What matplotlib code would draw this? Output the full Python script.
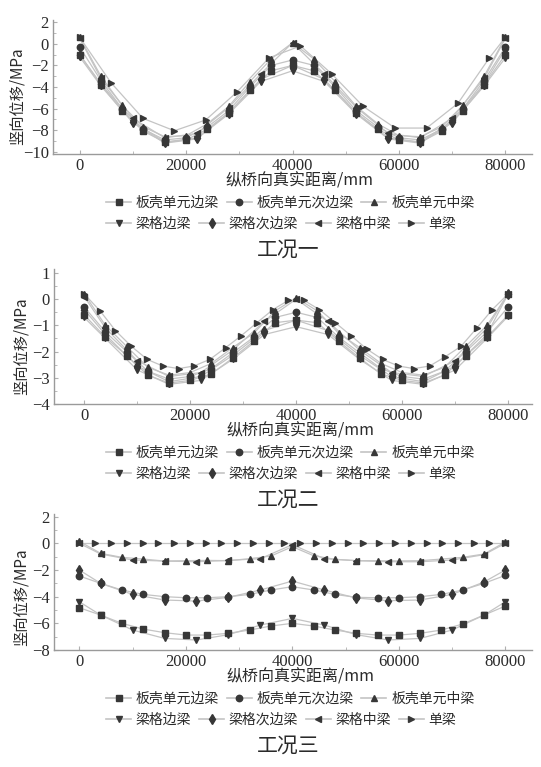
import matplotlib.pyplot as plt
from matplotlib.lines import Line2D
from matplotlib.ticker import MultipleLocator

# series names and x positions (mm)
names = ['板壳单元边梁', '板壳单元次边梁', '板壳单元中梁',
         '梁格边梁', '梁格次边梁', '梁格中梁', '单梁']
titles = ['工况一', '工况二', '工况三']

x_shell = [0, 4000, 8000, 12000, 16000, 20000, 24000, 28000, 32000, 36000, 40000,
           44000, 48000, 52000, 56000, 60000, 64000, 68000, 72000, 76000, 80000]
x_grid = [0, 4000, 10000, 16000, 22000, 28000, 34000, 40000,
          46000, 52000, 58000, 64000, 70000, 76000, 80000]
x_single = [0, 3000, 5900, 8900, 11900, 14800, 17800, 20700, 23700, 26700, 29600,
            32600, 35600, 38500, 41500, 44400, 47400, 50400, 53300, 56300, 59300,
            62200, 65200, 68100, 71100, 74100, 77000, 80000]
x_single_1 = [0, 5900, 11900, 17800, 23700, 29600, 35600, 41500, 47400, 53300,
              59300, 65200, 71100, 77000, 80000]

# 工况一
c1_edge = [-1.0, -3.8, -6.2, -8.1, -9.1, -8.9, -7.9, -6.4, -4.3, -2.5, -2.0,
           -2.5, -4.3, -6.4, -7.9, -8.9, -9.1, -8.1, -6.2, -3.8, -1.0]
c1_sub = [-0.3, -3.4, -6.0, -7.9, -8.9, -8.7, -7.7, -6.2, -4.0, -2.0, -1.5,
          -2.0, -4.0, -6.2, -7.7, -8.7, -8.9, -7.9, -6.0, -3.4, -0.3]
c1_mid = [0.6, -3.0, -5.7, -7.7, -8.6, -8.5, -7.4, -5.8, -3.5, -1.4, 0.1,
          -1.4, -3.5, -5.8, -7.4, -8.5, -8.6, -7.7, -5.7, -3.0, 0.6]
c1_g_edge = [-1.2, -3.9, -7.3, -9.2, -8.8, -6.5, -3.5, -2.5,
             -3.5, -6.5, -8.8, -9.2, -7.3, -3.9, -1.3]
c1_g_sub = [-1.0, -3.7, -7.2, -9.1, -8.7, -6.4, -3.3, -2.0,
            -3.3, -6.4, -8.7, -9.1, -7.2, -3.7, -0.5]
c1_g_mid = [0.5, -3.2, -6.9, -8.7, -8.3, -5.9, -2.8, 0.1,
            -2.8, -5.9, -8.3, -8.7, -6.9, -3.2, 0.5]
c1_single = [0.6, -3.6, -6.9, -8.05, -7.05, -4.45, -1.3, -0.2, -2.8, -5.8,
             -7.8, -7.8, -5.5, -1.3, 0.6]

# 工况二
c2_edge = [-0.6, -1.45, -2.15, -2.9, -3.2, -3.1, -2.85, -2.25, -1.6, -0.9, -0.8,
           -0.9, -1.6, -2.25, -2.85, -3.1, -3.2, -2.9, -2.15, -1.45, -0.6]
c2_sub = [-0.3, -1.25, -2.0, -2.75, -3.05, -2.95, -2.65, -2.05, -1.45, -0.7, -0.5,
          -0.7, -1.45, -2.05, -2.65, -2.95, -3.05, -2.75, -2.0, -1.25, -0.3]
c2_mid = [0.2, -1.0, -1.8, -2.6, -2.9, -2.8, -2.45, -1.85, -1.3, -0.45, 0.05,
          -0.45, -1.3, -1.85, -2.45, -2.8, -2.9, -2.6, -1.8, -1.0, 0.2]
c2_g_edge = [-0.7, -1.5, -2.7, -3.25, -3.1, -2.3, -1.35, -1.05,
             -1.35, -2.3, -3.1, -3.25, -2.7, -1.5, -0.65]
c2_g_sub = [-0.4, -1.35, -2.55, -3.15, -2.95, -2.15, -1.2, -0.8,
            -1.2, -2.15, -2.95, -3.15, -2.55, -1.35, 0.2]
c2_g_mid = [0.1, -1.1, -2.35, -2.95, -2.8, -1.95, -0.85, 0.0,
            -0.85, -1.95, -2.8, -2.95, -2.35, -1.1, 0.2]
c2_single = [0.2, -0.45, -1.2, -1.8, -2.3, -2.55, -2.65, -2.55, -2.3, -1.85,
             -1.4, -0.9, -0.4, -0.05, -0.05, -0.4, -0.9, -1.4, -1.9, -2.3,
             -2.55, -2.65, -2.55, -2.2, -1.8, -1.1, -0.4, 0.2]

# 工况三
c3_edge = [-4.83, -5.38, -6.0, -6.43, -6.7, -6.88, -6.88, -6.75, -6.5, -6.2, -6.0,
           -6.2, -6.5, -6.75, -6.88, -6.88, -6.75, -6.5, -6.05, -5.38, -4.7]
c3_sub = [-2.45, -3.0, -3.5, -3.83, -4.0, -4.08, -4.08, -4.0, -3.83, -3.5, -3.25,
          -3.5, -3.83, -4.05, -4.08, -4.08, -4.0, -3.83, -3.5, -3.0, -2.4]
c3_mid = [0.15, -0.75, -1.05, -1.18, -1.33, -1.3, -1.28, -1.3, -1.15, -0.95, -0.25,
          -0.93, -1.2, -1.3, -1.3, -1.32, -1.3, -1.18, -1.05, -0.8, 0.1]
c3_g_edge = [-4.38, -5.38, -6.5, -7.13, -7.25, -6.85, -6.13, -5.63,
             -6.13, -6.85, -7.25, -7.13, -6.5, -5.38, -4.38]
c3_g_sub = [-2.0, -3.0, -3.83, -4.25, -4.33, -4.05, -3.5, -2.83,
            -3.5, -4.1, -4.3, -4.25, -3.83, -2.9, -2.0]
c3_g_mid = [0.0, -0.8, -1.25, -1.33, -1.38, -1.28, -1.15, -0.1,
            -1.15, -1.3, -1.38, -1.38, -1.25, -0.85, 0.0]
c3_single = [0.0] * len(x_single)

markers = ['s', 'o', '^', 'v', 'd', '<', '>']
msizes = [4.3, 4.6, 5.0, 5.0, 5.6, 5.0, 5.0]
mk_color = '#373737'
ln_color = '#c4c4c4'

cases = [
    dict(y=[c1_edge, c1_sub, c1_mid, c1_g_edge, c1_g_sub, c1_g_mid, c1_single],
         xs=x_single_1, ylim=(-10.2, 2.2), yticks=2,
         pos=[53, 20, 479, 134], xlim=(-5000, 85000), ylabx=-0.058, ylaby=0.43),
    dict(y=[c2_edge, c2_sub, c2_mid, c2_g_edge, c2_g_sub, c2_g_mid, c2_single],
         xs=x_single, ylim=(-4, 1.15), yticks=1,
         pos=[54, 269, 478, 135], xlim=(-5700, 84500), ylabx=-0.05, ylaby=0.43),
    dict(y=[c3_edge, c3_sub, c3_mid, c3_g_edge, c3_g_sub, c3_g_mid, c3_single],
         xs=x_single, ylim=(-8, 2.2), yticks=2,
         pos=[54, 514, 478, 136], xlim=(-4750, 85000), ylabx=-0.05, ylaby=0.39),
]

# serif digits everywhere, CJK font named on the Chinese texts
plt.rcParams['font.family'] = ['Liberation Serif', 'DejaVu Serif']
cjk = ['Noto Sans CJK SC', 'DejaVu Sans']
txt_c = '#2a2a2a'

W, H = 541, 767
fig = plt.figure(figsize=(W / 100, H / 100), dpi=100)

for k, case in enumerate(cases):
    l, t, w, h = case['pos']
    ax = fig.add_axes([l / W, 1 - (t + h) / H, w / W, h / H])
    xs_all = [x_shell, x_shell, x_shell, x_grid, x_grid, x_grid, case['xs']]
    for i in range(7):
        ax.plot(xs_all[i], case['y'][i], color=ln_color, lw=0.9, zorder=1)
    for i in range(7):
        ax.plot(xs_all[i], case['y'][i], ls='none', marker=markers[i],
                ms=msizes[i], color=mk_color, mec=mk_color, zorder=3)

    ax.set_xlim(*case['xlim'])
    ax.set_ylim(*case['ylim'])
    ax.xaxis.set_major_locator(MultipleLocator(20000))
    ax.xaxis.set_minor_locator(MultipleLocator(10000))
    ax.yaxis.set_major_locator(MultipleLocator(case['yticks']))
    ax.yaxis.set_minor_locator(MultipleLocator(case['yticks'] / 2))
    for s in ['top', 'right']:
        ax.spines[s].set_visible(False)
    for s in ['left', 'bottom']:
        ax.spines[s].set_color('#9a9a9a')
        ax.spines[s].set_linewidth(1.0)
    ax.tick_params(which='both', direction='in', color='#b0b0b0', length=3,
                   labelsize=12, labelcolor=txt_c, pad=3)
    ax.tick_params(which='minor', length=2)

    ax.set_ylabel('竖向位移/MPa', family=cjk, fontsize=11, color=txt_c)
    ax.yaxis.set_label_coords(case['ylabx'], case['ylaby'])
    ax.set_xlabel('纵桥向真实距离/mm', family=cjk, fontsize=11.5, color=txt_c)
    ax.xaxis.set_label_coords(0.515, -19 / h)

    # legend in two rows, both left aligned
    handles = [Line2D([], [], color=ln_color, lw=1.2, marker=markers[i],
                      ms=msizes[i], mfc=mk_color, mec=mk_color) for i in range(7)]
    bottom = t + h
    rows = [(handles[:3], names[:3], bottom + 49), (handles[3:], names[3:], bottom + 70)]
    for hs, ls_, yy in rows:
        leg = fig.legend(hs, ls_, loc='center left', bbox_to_anchor=(106 / W, 1 - yy / H),
                         ncol=len(hs), frameon=False, borderpad=0, borderaxespad=0,
                         handlelength=1.8, handletextpad=0.35, columnspacing=0.55,
                         prop={'family': cjk, 'size': 10})
        for txt in leg.get_texts():
            txt.set_color(txt_c)

    fig.text(288 / W, 1 - (bottom + 96) / H, titles[k], ha='center', va='center',
             family=cjk, fontsize=15, color=txt_c)

fig.savefig('out.png', dpi=100)
